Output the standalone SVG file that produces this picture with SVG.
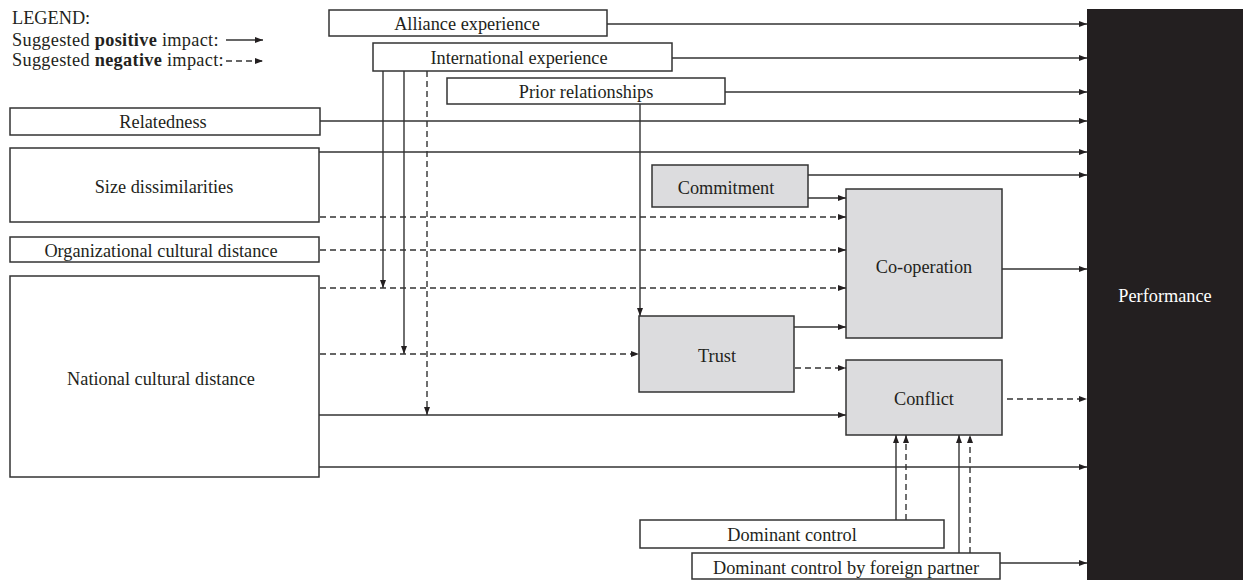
<svg xmlns="http://www.w3.org/2000/svg" width="1243" height="580" viewBox="0 0 1243 580">
<style>
text{font-family:"Liberation Serif","Times New Roman",serif;font-size:18.3px;fill:#231f20;text-anchor:middle}
.box{fill:#fff;stroke:#333;stroke-width:1.5}
.grey{fill:#dcdcde;stroke:#333;stroke-width:1.5}
.c line,.c path{stroke:#333;stroke-width:1.4;fill:none}
.d{stroke-dasharray:6 4}
.lg{text-anchor:start}
</style>
<defs>
<marker id="ah" viewBox="0 0 8 6" refX="8" refY="3" markerWidth="8" markerHeight="6" markerUnits="userSpaceOnUse" orient="auto">
<path d="M0,0 L8,3 L0,6 Z" fill="#231f20"/>
</marker>
</defs>
<rect width="1243" height="580" fill="#fff"/>

<g id="legend">
<text class="lg" x="12" y="24">LEGEND:</text>
<text class="lg" x="12" y="46" letter-spacing="0.3">Suggested <tspan font-weight="bold">positive</tspan> impact:</text>
<text class="lg" x="12" y="66" letter-spacing="0.3">Suggested <tspan font-weight="bold">negative</tspan> impact:</text>
<line x1="226" y1="40" x2="263" y2="40" stroke="#333" stroke-width="1.4" marker-end="url(#ah)"/>
<line x1="226" y1="61" x2="263" y2="61" stroke="#333" stroke-width="1.4" stroke-dasharray="6 4" marker-end="url(#ah)"/>
</g>

<g id="performance">
<rect x="1087" y="9" width="156" height="571" fill="#231f20"/>
<text x="1165" y="302" style="fill:#fff">Performance</text>
</g>

<g class="c" id="connectors">
<line x1="607" y1="24" x2="1087" y2="24" marker-end="url(#ah)"/>
<line x1="672" y1="58" x2="1087" y2="58" marker-end="url(#ah)"/>
<line x1="725" y1="92" x2="1087" y2="92" marker-end="url(#ah)"/>
<line x1="320" y1="121" x2="1087" y2="121" marker-end="url(#ah)"/>
<line x1="319" y1="152" x2="1087" y2="152" marker-end="url(#ah)"/>
<line x1="808" y1="175" x2="1087" y2="175" marker-end="url(#ah)"/>
<line x1="808" y1="198" x2="846" y2="198" marker-end="url(#ah)"/>
<line class="d" x1="320" y1="217" x2="846" y2="217" marker-end="url(#ah)"/>
<line class="d" x1="320" y1="250" x2="846" y2="250" marker-end="url(#ah)"/>
<line class="d" x1="320" y1="288" x2="846" y2="288" marker-end="url(#ah)"/>
<line x1="383" y1="71" x2="383" y2="288" marker-end="url(#ah)"/>
<line x1="404" y1="71" x2="404" y2="354" marker-end="url(#ah)"/>
<line class="d" x1="427" y1="71" x2="427" y2="415" marker-end="url(#ah)"/>
<line x1="640" y1="104" x2="640" y2="316" marker-end="url(#ah)"/>
<line class="d" x1="320" y1="354" x2="639" y2="354" marker-end="url(#ah)"/>
<line x1="319" y1="415" x2="846" y2="415" marker-end="url(#ah)"/>
<line x1="319" y1="467" x2="1087" y2="467" marker-end="url(#ah)"/>
<line x1="1002" y1="269" x2="1087" y2="269" marker-end="url(#ah)"/>
<line x1="794" y1="327" x2="846" y2="327" marker-end="url(#ah)"/>
<line class="d" x1="795" y1="368" x2="846" y2="368" marker-end="url(#ah)"/>
<line class="d" x1="1007" y1="399" x2="1087" y2="399" marker-end="url(#ah)"/>
<line x1="896" y1="520" x2="896" y2="435" marker-end="url(#ah)"/>
<line class="d" x1="906" y1="520" x2="906" y2="435" marker-end="url(#ah)"/>
<line x1="959" y1="553" x2="959" y2="435" marker-end="url(#ah)"/>
<line class="d" x1="970" y1="553" x2="970" y2="435" marker-end="url(#ah)"/>
<line x1="1000" y1="563" x2="1087" y2="563" marker-end="url(#ah)"/>
</g>

<g id="alliance"><rect class="box" x="329" y="10" width="278" height="26"/><text x="467" y="29.5">Alliance experience</text></g>
<g id="international"><rect class="box" x="373" y="43" width="299" height="28"/><text x="519" y="63.5">International experience</text></g>
<g id="prior"><rect class="box" x="447" y="78" width="278" height="26"/><text x="586" y="97.5">Prior relationships</text></g>
<g id="relatedness"><rect class="box" x="10" y="108" width="310" height="27"/><text x="163" y="127.5">Relatedness</text></g>
<g id="size"><rect class="box" x="10" y="148" width="309" height="74"/><text x="164" y="192.5">Size dissimilarities</text></g>
<g id="orgcult"><rect class="box" x="10" y="237" width="309" height="25"/><text x="161" y="256.5">Organizational cultural distance</text></g>
<g id="natcult"><rect class="box" x="10" y="276" width="309" height="201"/><text x="161" y="384.5">National cultural distance</text></g>
<g id="commitment"><rect class="grey" x="652" y="165" width="156" height="42"/><text x="726" y="193.5">Commitment</text></g>
<g id="cooperation"><rect class="grey" x="846" y="189" width="156" height="149"/><text x="924" y="272.5">Co-operation</text></g>
<g id="trust"><rect class="grey" x="639" y="316" width="155" height="76"/><text x="717" y="361.5">Trust</text></g>
<g id="conflict"><rect class="grey" x="846" y="360" width="156" height="75"/><text x="924" y="404.5">Conflict</text></g>
<g id="dominant"><rect class="box" x="640" y="520" width="304" height="28"/><text x="792" y="540.5">Dominant control</text></g>
<g id="foreign"><rect class="box" x="692" y="553" width="308" height="26"/><text x="846" y="573.5">Dominant control by foreign partner</text></g>
</svg>
